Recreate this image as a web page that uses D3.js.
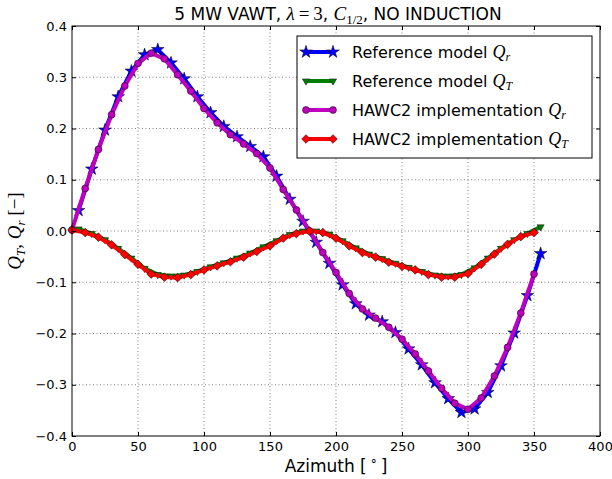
<!DOCTYPE html>
<html>
<head>
<meta charset="utf-8">
<script src="https://cdn.jsdelivr.net/npm/d3@7"></script>
<style>
  body { margin: 0; background: #fff; }
  text { font-family: "DejaVu Sans", sans-serif; fill: #000; }
  .math { font-family: "Liberation Serif", serif; }
</style>
</head>
<body>
<div id="chart"></div>
<script>
// azimuth positions [deg]
const azRef = [5, 15, 25, 35, 45, 55, 65, 75, 85, 95, 105, 115, 125, 135, 145, 155, 165, 175,
               185, 195, 205, 215, 225, 235, 245, 255, 265, 275, 285, 295, 305, 315, 325, 335, 345, 355];
const azHawc = [0, 10, 20, 30, 40, 50, 60, 70, 80, 90, 100, 110, 120, 130, 140, 150, 160, 170,
                180, 190, 200, 210, 220, 230, 240, 250, 260, 270, 280, 290, 300, 310, 320, 330, 340, 350];

// Reference model Q_r
const qrRef = [0.040, 0.121, 0.197, 0.262, 0.312, 0.344, 0.354, 0.328, 0.297, 0.262, 0.231, 0.204,
               0.184, 0.165, 0.145, 0.107, 0.062, 0.019, -0.022, -0.063, -0.105, -0.142, -0.164, -0.177,
               -0.198, -0.230, -0.261, -0.296, -0.327, -0.354, -0.347, -0.315, -0.263, -0.199, -0.126, -0.044];
// Reference model Q_T
const qtRef = [0.004, -0.005, -0.017, -0.034, -0.053, -0.073, -0.085, -0.088, -0.086, -0.079, -0.070, -0.062,
               -0.053, -0.043, -0.031, -0.019, -0.007, 0.000, 0.000, -0.006, -0.019, -0.033, -0.045, -0.054,
               -0.063, -0.071, -0.079, -0.086, -0.088, -0.085, -0.072, -0.053, -0.034, -0.017, -0.005, 0.008];
// HAWC2 implementation Q_r
const qrHawc = [0.002, 0.083, 0.159, 0.227, 0.283, 0.327, 0.347, 0.336, 0.305, 0.273, 0.239, 0.211,
                0.188, 0.170, 0.151, 0.123, 0.081, 0.041, 0.000, -0.042, -0.081, -0.122, -0.152, -0.170,
                -0.188, -0.211, -0.240, -0.273, -0.307, -0.336, -0.348, -0.326, -0.283, -0.227, -0.160, -0.084];
// HAWC2 implementation Q_T
const qtHawc = [0.002, -0.003, -0.012, -0.027, -0.046, -0.065, -0.084, -0.090, -0.091, -0.085, -0.076, -0.068,
                -0.060, -0.051, -0.040, -0.029, -0.014, -0.005, 0.000, -0.003, -0.014, -0.029, -0.042, -0.051,
                -0.061, -0.069, -0.076, -0.085, -0.090, -0.090, -0.083, -0.065, -0.045, -0.026, -0.011, -0.003];

const xTicks = [0, 50, 100, 150, 200, 250, 300, 350, 400];
const yTicks = [-0.4, -0.3, -0.2, -0.1, 0.0, 0.1, 0.2, 0.3, 0.4];

const width = 612, height = 479;
const margin = { top: 26, right: 12, bottom: 43, left: 72 };

const svg = d3.select("#chart").append("svg")
    .attr("width", width)
    .attr("height", height);

svg.append("rect").attr("width", width).attr("height", height).attr("fill", "#fff");

const x = d3.scaleLinear().domain([0, 400]).range([margin.left, width - margin.right]);
const y = d3.scaleLinear().domain([-0.4, 0.4]).range([height - margin.bottom, margin.top]);

// grid (dotted)
const grid = svg.append("g").attr("stroke", "#000").attr("stroke-width", 0.5).attr("stroke-dasharray", "1,2.5");
grid.selectAll(".gx").data(xTicks.slice(1, -1)).enter().append("line")
    .attr("x1", d => x(d)).attr("x2", d => x(d))
    .attr("y1", y(-0.4)).attr("y2", y(0.4));
grid.selectAll(".gy").data(yTicks.slice(1, -1)).enter().append("line")
    .attr("x1", x(0)).attr("x2", x(400))
    .attr("y1", d => y(d)).attr("y2", d => y(d));

// series definitions
const series = [
    { name: "Reference model ", sub: "r", az: azRef, vals: qrRef, color: "#0000ff",
      symbol: d3.symbol(d3.symbolStar, 50)(), rotate: 0 },
    { name: "Reference model ", sub: "T", az: azRef, vals: qtRef, color: "#008000",
      symbol: d3.symbol(d3.symbolTriangle, 22)(), rotate: 180 },
    { name: "HAWC2 implementation ", sub: "r", az: azHawc, vals: qrHawc, color: "#bf00bf",
      symbol: d3.symbol(d3.symbolCircle, 38)(), rotate: 0 },
    { name: "HAWC2 implementation ", sub: "T", az: azHawc, vals: qtHawc, color: "#ff0000",
      symbol: d3.symbol(d3.symbolSquare, 38)(), rotate: 45 }
];

const line = d3.line().x(d => x(d[0])).y(d => y(d[1]));

series.forEach(s => {
    const pts = s.az.map((a, i) => [a, s.vals[i]]);
    const g = svg.append("g");
    g.append("path")
        .datum(pts)
        .attr("d", line)
        .attr("fill", "none")
        .attr("stroke", s.color)
        .attr("stroke-width", 4)
        .attr("stroke-linejoin", "round");
    g.selectAll("path.mk")
        .data(pts)
        .enter()
        .append("path")
        .attr("class", "mk")
        .attr("d", s.symbol)
        .attr("transform", d => `translate(${x(d[0])},${y(d[1])}) rotate(${s.rotate})`)
        .attr("fill", s.color)
        .attr("stroke", "#000")
        .attr("stroke-width", 0.5);
});

// axes, ticks pointing inward on all four sides
const fmtY = d3.format(".1f");
const axB = svg.append("g").attr("transform", `translate(0,${y(-0.4)})`)
    .call(d3.axisBottom(x).tickValues(xTicks).tickSizeInner(-4).tickSizeOuter(0).tickPadding(6));
const axT = svg.append("g").attr("transform", `translate(0,${y(0.4)})`)
    .call(d3.axisTop(x).tickValues(xTicks).tickSizeInner(-4).tickSizeOuter(0).tickFormat(""));
const axL = svg.append("g").attr("transform", `translate(${x(0)},0)`)
    .call(d3.axisLeft(y).tickValues(yTicks).tickSizeInner(-4).tickSizeOuter(0).tickPadding(5).tickFormat(fmtY));
const axR = svg.append("g").attr("transform", `translate(${x(400)},0)`)
    .call(d3.axisRight(y).tickValues(yTicks).tickSizeInner(-4).tickSizeOuter(0).tickFormat(""));

[axB, axT, axL, axR].forEach(a => {
    a.select(".domain").remove();
    a.selectAll("line").attr("stroke", "#000").attr("stroke-width", 1);
    a.selectAll("text").attr("font-family", "DejaVu Sans").attr("font-size", 13);
});

svg.append("rect")
    .attr("x", x(0)).attr("y", y(0.4))
    .attr("width", x(400) - x(0)).attr("height", y(-0.4) - y(0.4))
    .attr("fill", "none").attr("stroke", "#000").attr("stroke-width", 1);

// title
const title = svg.append("text")
    .attr("x", (x(0) + x(400)) / 2 + 2).attr("y", 20)
    .attr("text-anchor", "middle").attr("font-size", 17);
title.append("tspan").text("5 MW VAWT, ");
title.append("tspan").attr("class", "math").attr("font-style", "italic").attr("font-size", 19).text("λ");
title.append("tspan").attr("class", "math").attr("font-size", 19).text("\u2009=\u20093");
title.append("tspan").text(",  ");
title.append("tspan").attr("class", "math").attr("font-style", "italic").attr("font-size", 19).text("C");
title.append("tspan").attr("class", "math").attr("font-size", 13).attr("dy", 4).text("1/2");
title.append("tspan").attr("dy", -4).text(", NO INDUCTION");

// x label
const xl = svg.append("text")
    .attr("x", (x(0) + x(400)) / 2).attr("y", 472)
    .attr("text-anchor", "middle").attr("font-size", 17);
xl.append("tspan").text("Azimuth [");
xl.append("tspan").attr("class", "math").attr("font-size", 12).attr("dy", -7).text(" ∘ ");
xl.append("tspan").attr("dy", 7).text("]");

// y label
const yl = svg.append("text")
    .attr("transform", `translate(21,${(y(0.4) + y(-0.4)) / 2}) rotate(-90)`)
    .attr("text-anchor", "middle").attr("font-size", 19).attr("class", "math");
yl.append("tspan").attr("font-style", "italic").text("Q");
yl.append("tspan").attr("font-style", "italic").attr("font-size", 13).attr("dy", 4).text("T");
yl.append("tspan").attr("dy", -4).text(", ");
yl.append("tspan").attr("font-style", "italic").text("Q");
yl.append("tspan").attr("font-style", "italic").attr("font-size", 13).attr("dy", 4).text("r");
yl.append("tspan").attr("dy", -4).text("  [−]");

// legend
const legend = svg.append("g").attr("transform", "translate(297,36)");
legend.append("rect")
    .attr("width", 295).attr("height", 122)
    .attr("fill", "#fff").attr("stroke", "#000").attr("stroke-width", 1);

const items = legend.selectAll(".legend")
    .data(series)
    .enter()
    .append("g")
    .attr("class", "legend")
    .attr("transform", (d, i) => `translate(0,${16 + i * 29})`);

items.append("line")
    .attr("x1", 9).attr("x2", 36)
    .attr("stroke", d => d.color).attr("stroke-width", 4);
[9, 36].forEach(px => {
    items.append("path")
        .attr("d", d => d.symbol)
        .attr("transform", d => `translate(${px},0) rotate(${d.rotate})`)
        .attr("fill", d => d.color)
        .attr("stroke", "#000")
        .attr("stroke-width", 0.5);
});

const lt = items.append("text")
    .attr("x", 55).attr("y", 6)
    .attr("font-size", 16);
lt.append("tspan").text(d => d.name);
lt.append("tspan").attr("class", "math").attr("font-style", "italic").attr("font-size", 18).text("Q");
lt.append("tspan").attr("class", "math").attr("font-style", "italic")
    .attr("font-size", 12).attr("dy", 3).text(d => d.sub);
</script>
</body>
</html>
